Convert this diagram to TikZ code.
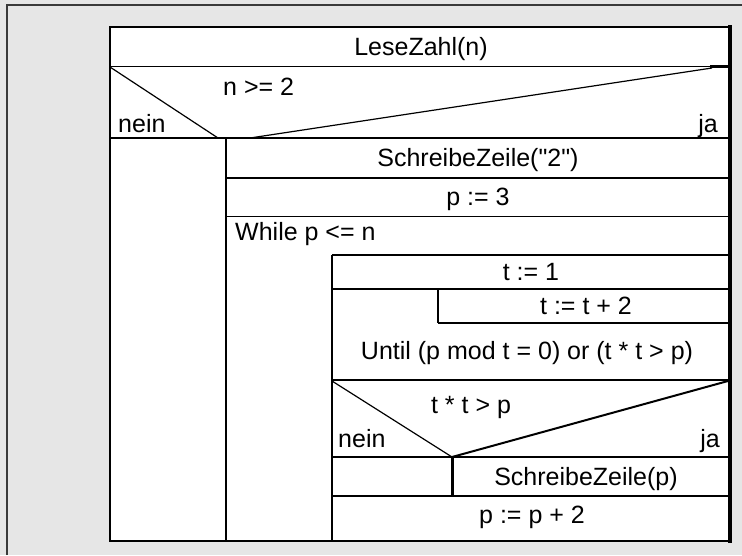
\documentclass[tikz,border=0pt]{standalone}
\usepackage{fontspec}
\setmainfont{Liberation Sans}
\definecolor{bggray}{HTML}{E6E6E6}
\definecolor{framegray}{HTML}{3A3A3A}
\begin{document}
\begin{tikzpicture}[x=1pt,y=-1pt,
  lbl/.style={font=\fontsize{25}{29}\selectfont, inner sep=0pt},
  nsline/.style={line width=1.2pt, black},
  nsthick/.style={line width=2.6pt, black},
]
\useasboundingbox (0,0) rectangle (742,555);
\fill[bggray] (0,0) rectangle (742,555);
\draw[line width=1.6pt, framegray] (7,555) -- (7,5) -- (742,5);
\fill[white] (110,27) rectangle (730,541);

% outer box
\draw[nsline] (730,541) -- (110,541) -- (110,27) -- (730,27);
\draw[line width=4pt] (730,25) -- (730,543);
\draw[nsline] (110,66.5) -- (730,66.5);
\draw[nsthick] (710,66.5) -- (730,66.5);
% condition 1
\draw[nsline] (110,67) -- (218,138);
\draw[nsline] (250,138) -- (712,68);
\draw[nsthick] (110,138) -- (730,138);
\draw[nsline] (226,138) -- (226,541);
\draw[nsline] (226,178) -- (730,178);
\draw[nsline] (226,216.5) -- (730,216.5);
% while block
\draw[nsthick] (332,255) -- (730,255);
\draw[nsline] (332,255) -- (332,541);
\draw[nsthick] (332,289) -- (438,289);
\draw[nsline] (438,289) -- (730,289);
\draw[nsline] (438,289) -- (438,323);
\draw[nsline] (438,323) -- (730,323);
\draw[nsthick] (332,380) -- (730,380);
% condition 2
\draw[nsline] (332,381) -- (452,457);
\draw[line width=2pt] (452,457) -- (728,381);
\draw[nsline] (332,457) -- (730,457);
\draw[line width=3pt] (452,457) -- (452,496);
\draw[nsline] (332,496) -- (730,496);

% texts
\node[lbl, anchor=base] (lese) at (421,55) {LeseZahl(n)};
\node[lbl, anchor=base west] (cond1) at (223,95) {n >= 2};
\node[lbl, anchor=base west] (nein1) at (118,132) {nein};
\node[lbl, anchor=base east] (ja1) at (718,132) {ja};
\node[lbl, anchor=base] (sz2) at (478,166) {SchreibeZeile(\textquotedbl 2\textquotedbl)};
\node[lbl, anchor=base] (p3) at (478,205) {p := 3};
\node[lbl, anchor=base west] (while) at (235,240) {While p <= n};
\node[lbl, anchor=base] (t1) at (531,280) {t := 1};
\node[lbl, anchor=base] (tt2) at (586,314) {t := t + 2};
\node[lbl, anchor=base] (until) at (527,359) {Until (p mod t = 0) or (t * t > p)};
\node[lbl, anchor=base] (cond2) at (471,413) {t * t > p};
\node[lbl, anchor=base west] (nein2) at (338,447) {nein};
\node[lbl, anchor=base east] (ja2) at (720,447) {ja};
\node[lbl, anchor=base] (szp) at (586,485) {SchreibeZeile(p)};
\node[lbl, anchor=base] (pp2) at (532,523) {p := p + 2};
\end{tikzpicture}
\end{document}
